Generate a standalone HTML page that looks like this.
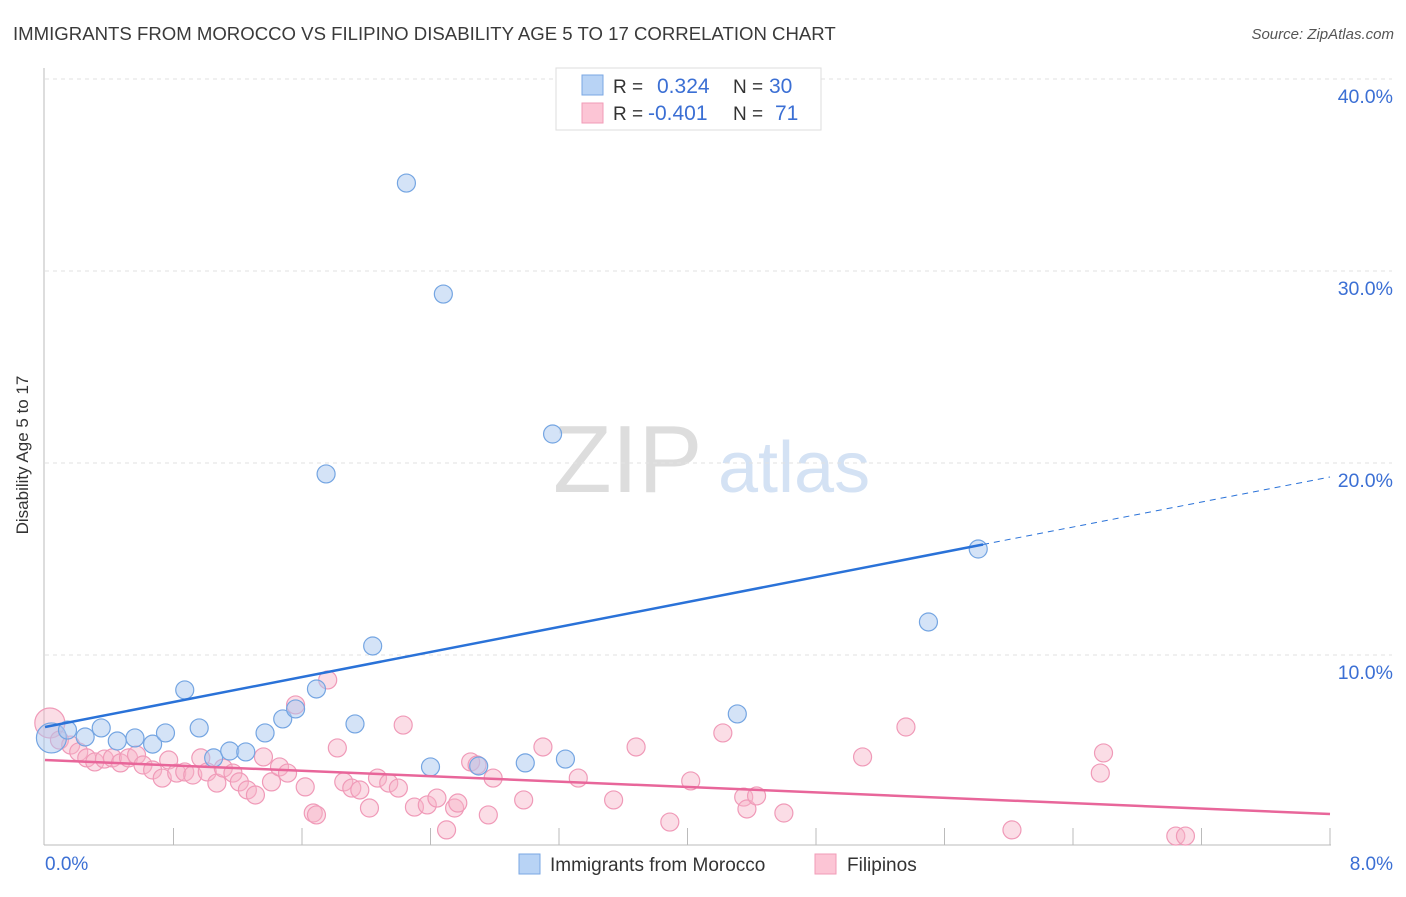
<!DOCTYPE html>
<html><head><meta charset="utf-8"><style>
body{margin:0;background:#fff;font-family:"Liberation Sans",sans-serif}
svg text{font-family:"Liberation Sans",sans-serif}
</style></head><body>
<svg id="c" width="1406" height="892">
<text x="13" y="40" font-size="18.6" fill="#3a3a3a">IMMIGRANTS FROM MOROCCO VS FILIPINO DISABILITY AGE 5 TO 17 CORRELATION CHART</text>
<text x="1394" y="39" font-size="15" fill="#555" font-style="italic" text-anchor="end">Source: ZipAtlas.com</text>
<g>
<text x="553" y="492" font-size="96" fill="#ddd" font-family="Liberation Serif,serif">ZIP</text>
<text x="718" y="492" font-size="72" fill="#d4e2f4">atlas</text>
</g>
<g id="grid"></g>
<g id="axes"></g>
<g id="pts"></g>
<g id="lines"></g>
<text x="28" y="455" font-size="17" fill="#333" text-anchor="middle" transform="rotate(-90 28 455)">Disability Age 5 to 17</text>
<text x="45" y="870" font-size="19" fill="#3b6fd4">0.0%</text>
<text x="1393" y="870" font-size="19" fill="#3b6fd4" text-anchor="end">8.0%</text>
<g>
<rect x="556" y="68" width="265" height="62" fill="#fff" stroke="#ddd"/>
<rect x="582" y="75" width="21" height="20" fill="#b8d3f5" stroke="#7aa7e3"/>
<rect x="582" y="103" width="21" height="20" fill="#fcc5d5" stroke="#f19bb7"/>
<text x="613" y="93" font-size="19" fill="#333">R = </text><text x="657" y="93" font-size="21" fill="#3b6fd4">0.324</text>
<text x="733" y="93" font-size="19" fill="#333">N = </text><text x="769" y="93" font-size="21" fill="#3b6fd4">30</text>
<text x="613" y="120" font-size="19" fill="#333">R = </text><text x="648" y="120" font-size="21" fill="#3b6fd4">-0.401</text>
<text x="733" y="120" font-size="19" fill="#333">N = </text><text x="775" y="120" font-size="21" fill="#3b6fd4">71</text>
</g>
<g>
<rect x="519" y="854" width="21" height="20" fill="#b8d3f5" stroke="#7aa7e3"/>
<text x="550" y="871" font-size="19" fill="#333">Immigrants from Morocco</text>
<rect x="815" y="854" width="21" height="20" fill="#fcc5d5" stroke="#f19bb7"/>
<text x="847" y="871" font-size="19" fill="#333">Filipinos</text>
</g>
</svg>
<script>
const yTicks=[10,20,30,40];
const yTickLabels=["10.0%","20.0%","30.0%","40.0%"];
const xTicks=[0.8,1.6,2.4,3.2,4.0,4.8,5.6,6.4,7.2,8.0];
const moroccoX=[0.04,0.14,0.25,0.35,0.45,0.56,0.67,0.75,0.87,0.96,1.05,1.15,1.25,1.37,1.48,1.56,1.69,1.75,1.93,2.04,2.25,2.40,2.48,2.70,2.99,3.16,3.24,4.31,5.50,5.81];
const moroccoY=[5.68,6.09,5.73,6.20,5.52,5.68,5.36,5.94,8.18,6.20,4.64,5.00,4.95,5.94,6.67,7.19,8.23,19.43,6.41,10.47,34.58,4.17,28.80,4.22,4.38,21.51,4.58,6.93,11.72,15.52];
const filipinoX=[0.03,0.09,0.16,0.21,0.26,0.31,0.37,0.42,0.47,0.52,0.57,0.61,0.67,0.73,0.77,0.82,0.87,0.92,0.97,1.01,1.07,1.11,1.17,1.21,1.26,1.31,1.36,1.41,1.46,1.51,1.56,1.62,1.67,1.69,1.76,1.82,1.86,1.91,1.96,2.02,2.07,2.14,2.20,2.23,2.30,2.38,2.44,2.50,2.55,2.57,2.65,2.69,2.76,2.79,2.98,3.10,3.32,3.54,3.68,3.89,4.02,4.22,4.35,4.37,4.43,4.60,5.09,5.36,6.02,6.57,6.59,7.04,7.10];
const filipinoY=[6.46,5.57,5.31,4.95,4.64,4.43,4.58,4.64,4.38,4.64,4.79,4.27,4.01,3.59,4.53,3.85,3.91,3.75,4.64,3.91,3.33,4.11,3.85,3.39,2.97,2.71,4.69,3.39,4.17,3.85,7.40,3.13,1.77,1.67,8.70,5.16,3.39,3.07,2.97,2.03,3.59,3.33,3.07,6.35,2.08,2.19,2.55,0.89,2.03,2.29,4.43,4.27,1.67,3.59,2.45,5.21,3.59,2.45,5.21,1.30,3.44,5.94,2.60,1.98,2.66,1.77,4.69,6.25,0.89,3.85,4.90,0.57,0.57];
const moroccoTrend=[6.25,19.27];
const filipinoTrend=[4.53,1.72];
const X=v=>45+v/8*1285, Y=v=>847-v*19.2;
const NS="http://www.w3.org/2000/svg";
function mk(t,a,p){const e=document.createElementNS(NS,t);for(const k in a)e.setAttribute(k,a[k]);p.appendChild(e);return e;}
const g=document.getElementById('grid'),ax=document.getElementById('axes'),pts=document.getElementById('pts'),ln=document.getElementById('lines');
yTicks.forEach((t,i)=>{
 const l=mk('line',{x1:45,x2:1392,y1:Y(t),y2:Y(t),stroke:'#e2e2e2','stroke-dasharray':'4,4'},g);
 
 
 const tx=mk('text',{x:1393,y:Y(t)+24,'font-size':19.5,fill:'#3b6fd4','text-anchor':'end'},g);tx.textContent=yTickLabels[i];
 
 
});
const ya=mk('line',{x1:44,x2:44,y1:68,y2:845,stroke:'#bbb'},ax);


const xa=mk('line',{x1:44,x2:1331,y1:845,y2:845,stroke:'#bbb'},ax);


xTicks.forEach(t=>{const l=mk('line',{x1:X(t),x2:X(t),y1:828,y2:845,stroke:'#bbb'},ax);
 
 });
filipinoX.forEach((x,i)=>{const c=mk('circle',{cx:X(x),cy:Y(filipinoY[i]),r:i==0?15:9,fill:'#f7b3c8','fill-opacity':0.45,stroke:'#f09ab8','stroke-width':1.2},pts);
 
 });
moroccoX.forEach((x,i)=>{const c=mk('circle',{cx:X(x),cy:Y(moroccoY[i]),r:i==0?15:9,fill:'#a9c8f0','fill-opacity':0.5,stroke:'#74a5e2','stroke-width':1.2},pts);
 
 });
const bx=5.84,by=moroccoTrend[0]+(moroccoTrend[1]-moroccoTrend[0])*bx/8;
const b1=mk('line',{x1:X(0),y1:Y(moroccoTrend[0]),x2:X(bx),y2:Y(by),stroke:'#2a72d8','stroke-width':2.5},ln);


const b2=mk('line',{x1:X(bx),y1:Y(by),x2:X(8),y2:Y(moroccoTrend[1]),stroke:'#2a72d8','stroke-width':1,'stroke-dasharray':'6,5'},ln);


const p1=mk('line',{x1:X(0),y1:Y(filipinoTrend[0]),x2:X(8),y2:Y(filipinoTrend[1]),stroke:'#e8669a','stroke-width':2.5},ln);


</script>
</body></html>
